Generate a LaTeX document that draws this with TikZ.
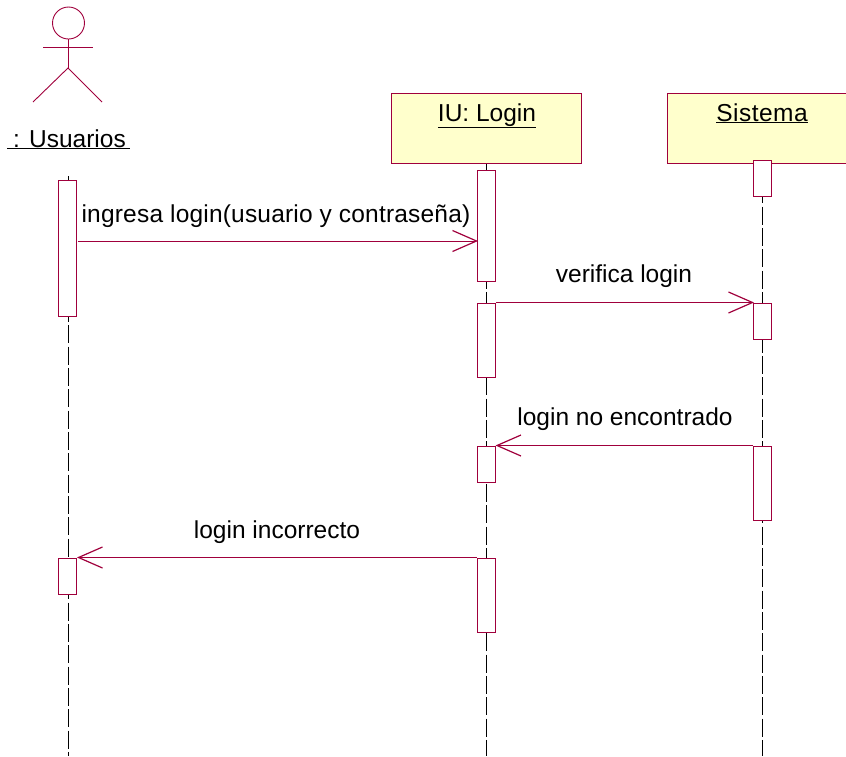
\documentclass[tikz,border=0pt]{standalone}
\usepackage{fontspec}
\setmainfont{Liberation Sans}
\usetikzlibrary{arrows.meta}
\definecolor{umlline}{RGB}{160,0,60}
\definecolor{umlfill}{RGB}{255,255,204}
\tikzset{
  lifeline/.style={black,line width=0.8pt,dash pattern=on 18pt off 3.33pt},
  bar/.style={draw=umlline,fill=white,line width=1pt,inner sep=0pt,minimum width=18pt},
  headbox/.style={draw=umlline,fill=umlfill,line width=1pt,inner sep=0pt,minimum width=190pt,minimum height=70pt},
  msg/.style={draw=umlline,line width=0.9pt,-{Straight Barb[length=24pt,width=21pt,line width=1.2pt]}},
  txt/.style={inner sep=0pt,font=\fontsize{24.5}{29}\selectfont,anchor=base},
  actor/.style={draw=umlline,line width=0.9pt}
}
\begin{document}
\begin{tikzpicture}[x=1pt,y=-1pt]
    \useasboundingbox(0,0)rectangle(846,756);
    \clip(0,0)rectangle(846,756);

    \coordinate(hip)at(68,68);
    \coordinate(neck)at(68,39);
    \coordinate(armL)at(43,47);
    \coordinate(armR)at(93,47);
    \coordinate(legL)at(33,102);
    \coordinate(legR)at(102,102);
    \coordinate(topU)at(68,176);
    \coordinate(topL)at(486.5,164);
    \coordinate(topS)at(762,164);
    \coordinate(endU)at(68,756);
    \coordinate(endL)at(486.5,756);
    \coordinate(endS)at(762,756);
    \coordinate(m1)at(0,241);

    \foreach\P in{U,L,S}\draw[lifeline](top\P)--(end\P);

    % actor
    \draw[actor](68.5,23)circle(16);
    \draw[actor](neck)--(hip);
    \draw[actor](armL)--(armR);
    \draw[actor](legL)--(hip)--(legR);
    \node[txt](nameU)at(68.5,147){\underline{\kern6pt: Usuarios\kern4pt}};

    \node[headbox](headL)at(486,128){};
    \node[headbox](headS)at(762,128){};
    \node[txt](nameL)at(487,121){\underline{IU: Login}};
    \node[txt](nameS)at(762,121){\underline{\addfontfeatures{LetterSpace=2}Sistema}};

    \node[bar,minimum height=136pt](barU1)at(67.5,248){};
    \node[bar,minimum height=36pt](barU2)at(67.5,576){};
    \node[bar,minimum height=111pt](barL1)at(486,225.5){};
    \node[bar,minimum height=74pt](barL2)at(486,340){};
    \node[bar,minimum height=36pt](barL3)at(486,464){};
    \node[bar,minimum height=74pt](barL4)at(486,595){};
    \node[bar,minimum height=36pt](barS1)at(762,178){};
    \node[bar,minimum height=36pt](barS2)at(762,321){};
    \node[bar,minimum height=74pt](barS3)at(762,483){};

    \draw[msg,shorten >=-1.5pt]([xshift=1pt]barU1.east|-m1)--(barL1.west|-m1);
    \draw[msg,shorten >=-1.5pt]([xshift=0.5pt]barL2.north east)--(barS2.north west);
    \draw[msg](barS3.north west)--(barL3.north east);
    \draw[msg](barL4.north west)--(barU2.north east);

    \node[txt](lblA)at(276,222){\addfontfeatures{LetterSpace=0.8}ingresa login(usuario y contraseña)};
    \node[txt](lblB)at(624,282){verifica login};
    \node[txt](lblC)at(625,425){login no encontrado};
    \node[txt](lblD)at(277,538){login incorrecto};
  \end{tikzpicture}
\end{document}
